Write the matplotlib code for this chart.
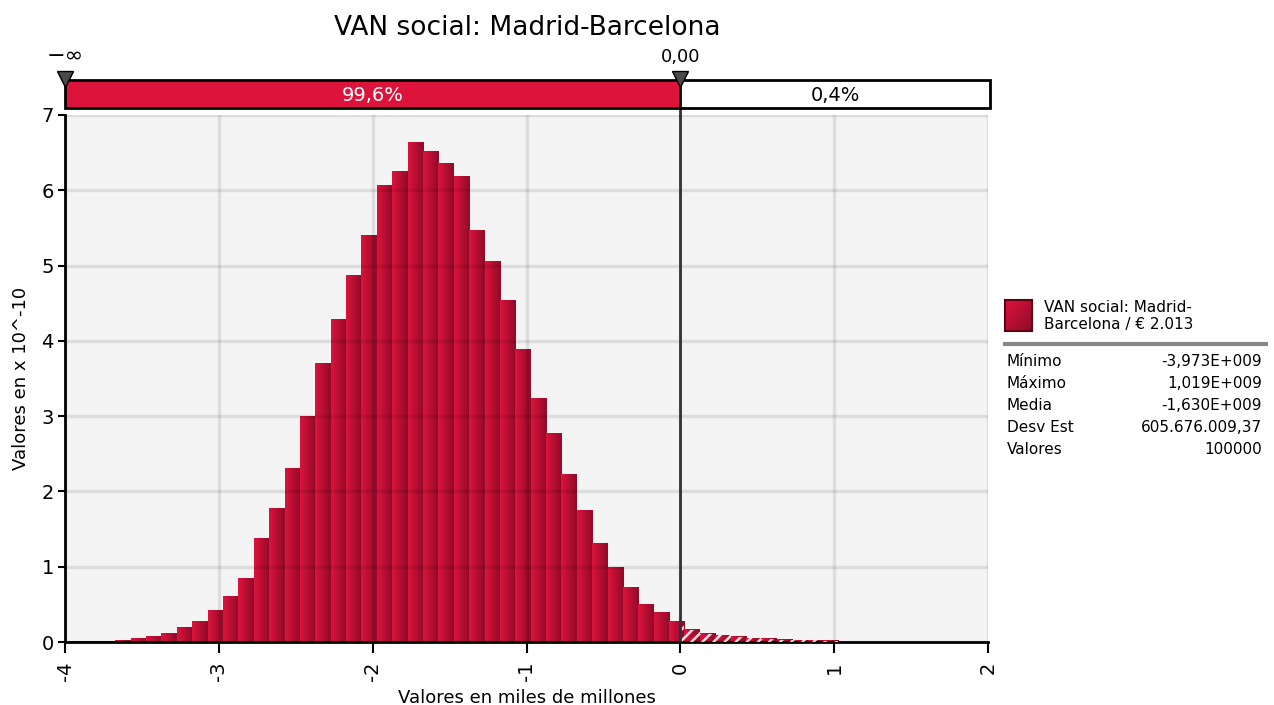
import numpy as np
import matplotlib.pyplot as plt
from matplotlib.colors import LinearSegmentedColormap
from matplotlib.patches import Rectangle

# Datos del histograma (densidad en x 10^-10), bins de 0.1 (miles de millones)
bin_start = -3.973
bin_width = 0.1
alturas = [0.01, 0.01, 0.01, 0.02, 0.04, 0.07, 0.11, 0.19, 0.27, 0.42,
           0.61, 0.85, 1.37, 1.77, 2.31, 3.00, 3.70, 4.28, 4.87, 5.40,
           6.06, 6.25, 6.64, 6.52, 6.35, 6.18, 5.46, 5.05, 4.54, 3.88,
           3.24, 2.77, 2.23, 1.75, 1.31, 0.99, 0.73, 0.50, 0.39, 0.27,
           0.16, 0.11, 0.09, 0.07, 0.05, 0.045, 0.03, 0.02, 0.02, 0.015]
corte = 0.0
pct_izq = "99,6%"
pct_der = "0,4%"
titulo = "VAN social: Madrid-Barcelona"
leyenda = "VAN social: Madrid-\nBarcelona / € 2.013"
estadisticas = [("Mínimo", "-3,973E+009"),
                ("Máximo", "1,019E+009"),
                ("Media", "-1,630E+009"),
                ("Desv Est", "605.676.009,37"),
                ("Valores", "100000")]
xticks = [-4, -3, -2, -1, 0, 1, 2]
yticks = [0, 1, 2, 3, 4, 5, 6, 7]

W, H = 1274, 705
plt.rcParams['font.family'] = ['DejaVu Sans']
plt.rcParams['hatch.linewidth'] = 1.8


def caja(x0, y0, x1, y1):
    # caja en pixeles (origen arriba a la izquierda) -> fraccion de figura
    return [x0 / W, 1 - y1 / H, (x1 - x0) / W, (y1 - y0) / H]


fig = plt.figure(figsize=(W / 100, H / 100), dpi=100)
ax = fig.add_axes(caja(65, 115, 988, 642))
ax.set_facecolor('#f4f4f4')

grad = LinearSegmentedColormap.from_list('rojo', ['#dc143c', '#900a28'])
g = np.linspace(0, 1, 64).reshape(1, -1)

izq = bin_start + bin_width * np.arange(len(alturas))
for x0, h in zip(izq, alturas):
    x1 = x0 + bin_width
    ax.imshow(g, cmap=grad, extent=[x0, x1, 0, h], aspect='auto',
              interpolation='bilinear', zorder=2)
    if x1 > corte:
        a = max(x0, corte)
        ax.bar(a, h, width=x1 - a, align='edge', facecolor='none',
               edgecolor='#f6dfe4', linewidth=0, hatch='///', zorder=3)

ax.set_xlim(-4, 2)
ax.set_ylim(0, 7)
ax.set_xticks(xticks)
ax.set_xticklabels([str(t) for t in xticks], rotation=90, fontsize=14)
ax.set_yticks(yticks)
ax.set_yticklabels([str(t) for t in yticks], fontsize=14)
ax.tick_params(axis='x', length=8, width=1.5, pad=6)
ax.tick_params(axis='y', length=5, width=1.5, pad=3)
for s in ['top', 'right']:
    ax.spines[s].set_visible(False)
for s in ['left', 'bottom']:
    ax.spines[s].set_linewidth(2)
for t in yticks:
    ax.axhline(t, color='black', alpha=0.09, linewidth=2.5, zorder=4)
for t in xticks:
    ax.axvline(t, color='black', alpha=0.09, linewidth=2.5, zorder=4)
ax.axvline(corte, color='#333333', linewidth=2, zorder=5)
ax.set_xlabel("Valores en miles de millones", fontsize=13, labelpad=6)
ax.set_ylabel("Valores en x 10^-10", fontsize=13, labelpad=8)

# barra superior de probabilidades
top = fig.add_axes(caja(65, 80, 990, 108))
xr = -4 + 925 / 153.83
top.set_xlim(-4, xr)
top.set_ylim(0, 1)
top.axis('off')
top.add_patch(Rectangle((-4, 0), corte + 4, 1, facecolor='#dc143c',
                        edgecolor='black', linewidth=2, clip_on=False))
top.add_patch(Rectangle((corte, 0), xr - corte, 1, facecolor='white',
                        edgecolor='black', linewidth=2, clip_on=False))
top.text((-4 + corte) / 2, 0.45, pct_izq, color='white', fontsize=14,
         ha='center', va='center')
top.text((corte + xr) / 2, 0.45, pct_der, color='black', fontsize=14,
         ha='center', va='center')
ax.plot([corte, corte], [7, 7.5], color='#333333', linewidth=2,
        clip_on=False, zorder=5)
for xm, lab, fs in [(-4, "−∞", 16), (corte, "0,00", 13)]:
    top.plot(xm, 1.05, marker='v', markersize=11, color='#4a4a4a',
             markeredgecolor='black', clip_on=False, zorder=6)
    top.text(xm, 1.5, lab, fontsize=fs, ha='center', va='bottom')

fig.text(527 / W, 1 - 28 / H, titulo, fontsize=19, ha='center', va='center')

# leyenda y estadisticas
pax = fig.add_axes(caja(1005, 300, 1032, 331))
gg = np.add.outer(np.linspace(0, 1, 32), np.linspace(0, 1, 32)) / 2
pax.imshow(gg, cmap=grad, aspect='auto', interpolation='bilinear')
pax.set_xticks([])
pax.set_yticks([])
for s in pax.spines.values():
    s.set_color('#5a0010')
    s.set_linewidth(1.5)
fig.text(1044 / W, 1 - 316 / H, leyenda, fontsize=11, ha='left',
         va='center', linespacing=1.2)
fig.add_artist(plt.Line2D([1005 / W, 1266 / W], [1 - 344 / H, 1 - 344 / H],
                          color='#888888', linewidth=3))
for i, (k, v) in enumerate(estadisticas):
    y = 1 - (361 + 22 * i) / H
    fig.text(1007 / W, y, k, fontsize=11, ha='left', va='center')
    fig.text(1262 / W, y, v, fontsize=11, ha='right', va='center')

plt.savefig("out.png", dpi=100)
